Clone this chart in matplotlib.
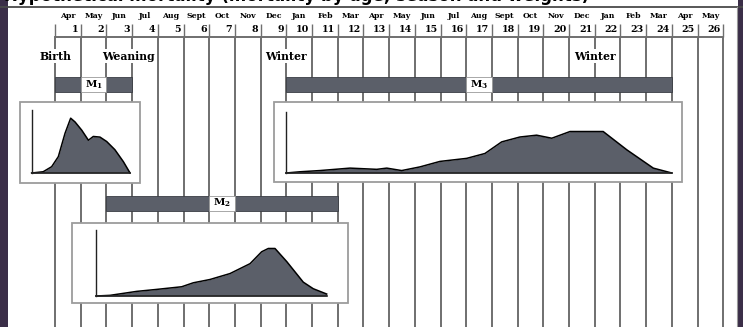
import matplotlib
matplotlib.use("Agg")
import matplotlib.pyplot as plt
from matplotlib.patches import Rectangle

plt.rcParams['mathtext.fontset'] = 'dejavuserif'

# ---- data ----
months = ['Apr', 'May', 'Jun', 'Jul', 'Aug', 'Sept', 'Oct', 'Nov', 'Dec', 'Jan', 'Feb', 'Mar', 'Apr',
          'May', 'Jun', 'Jul', 'Aug', 'Sept', 'Oct', 'Nov', 'Dec', 'Jan', 'Feb', 'Mar', 'Apr', 'May']
month_nums = list(range(1, 27))

events = ['Birth', 'Weaning', 'Winter', 'Winter']
event_month = [0, 3, 9, 21]

periods = ['M1', 'M2', 'M3']
period_start = [0, 2, 9]
period_end = [3, 11, 24]
period_label_cell = [1, 6, 16]

# density curves (x in months of age, y relative to inset height)
m1_x = [-0.91, -0.46, -0.13, 0.13, 0.39, 0.61, 0.78, 1.04, 1.30, 1.49, 1.75, 2.01, 2.33, 2.66, 2.92]
m1_y = [0.0, 0.02, 0.10, 0.26, 0.63, 0.87, 0.81, 0.68, 0.52, 0.58, 0.57, 0.50, 0.37, 0.18, 0.0]

m2_x = [1.60, 2.14, 2.66, 3.18, 3.96, 4.93, 5.38, 6.03, 6.81, 7.59, 8.04, 8.30, 8.56, 9.02, 9.66, 10.05, 10.57]
m2_y = [0.0, 0.01, 0.04, 0.07, 0.10, 0.14, 0.20, 0.25, 0.34, 0.49, 0.67, 0.72, 0.72, 0.52, 0.21, 0.11, 0.03]

m3_x = [8.99, 9.53, 10.31, 11.48, 12.52, 12.91, 13.49, 14.20, 14.98, 16.02, 16.73, 17.38, 18.09,
        18.74, 19.33, 20.04, 21.33, 22.25, 23.28, 24.0]
m3_y = [0.0, 0.02, 0.04, 0.08, 0.06, 0.08, 0.04, 0.10, 0.19, 0.24, 0.32, 0.51, 0.59, 0.62, 0.57,
        0.68, 0.68, 0.38, 0.08, 0.0]

# ---- layout (pixel rows, month columns) ----
W, H = 743, 327
PX0, PXM = 55.0, 25.7          # x pixel of month 0, pixels per month
line_col = '#6f6f6f'
fill_col = '#5b5f69'
serif = 'DejaVu Serif'

fig = plt.figure(figsize=(W / 100, H / 100), dpi=100)
fig.patch.set_facecolor('white')
ax = fig.add_axes([0, 0, 1, 1])
ax.set_xlim(-PX0 / PXM, (W - PX0) / PXM)
ax.set_ylim(H, 0)
ax.axis('off')

# month grid lines
for k in range(0, 27):
    ax.plot([k, k], [37, H], color=line_col, lw=1.4, zorder=1, solid_capstyle='butt')
    ax.plot([k, k], [24, 37], color=line_col, lw=1.0, zorder=1, solid_capstyle='butt')
ax.plot([0, 26], [37, 37], color=line_col, lw=1.4, zorder=1)

# header labels
for i, (m, n) in enumerate(zip(months, month_nums)):
    ax.text(n - 0.5, 15.5, m, ha='center', va='center', fontsize=5.6, fontweight='bold',
            family=serif)
    ax.text(n - 0.1, 30, str(n), ha='right', va='center', fontsize=6.8, fontweight='bold',
            family=serif)

# event labels
for ev, m in zip(events, event_month):
    ax.text(m - (0.15 if ev == 'Weaning' else 0), 56, ev, ha='center', va='center', fontsize=7.8,
            fontweight='bold', family=serif, zorder=4,
            bbox=dict(boxstyle='square,pad=0.15', fc='white', ec='none'))

# period bars
bar_rows = [84.5, 203, 84.5]
for name, s, e, c, yc in zip(periods, period_start, period_end, period_label_cell, bar_rows):
    ax.barh(yc, c - s, left=s, height=15, color=fill_col, edgecolor='#3a3d44', lw=0.6, zorder=3)
    ax.barh(yc, e - c - 1, left=c + 1, height=15, color=fill_col, edgecolor='#3a3d44', lw=0.6, zorder=3)
    ax.barh(yc, 1, left=c, height=15, color='white', edgecolor='#9a9a9a', lw=0.6, zorder=3)
    ax.text(c + 0.5, yc, r'$\mathbf{M}_{\mathbf{%s}}$' % name[1], ha='center', va='center',
            fontsize=7.5, zorder=4)

# insets
insets = [
    (m1_x, m1_y, (-1.36, 3.31, 102, 183), 173, 63),
    (m2_x, m2_y, (0.66, 11.40, 223, 303), 296, 66),
    (m3_x, m3_y, (8.52, 24.40, 102, 182), 173, 61),
]
for xs, ys, (bx0, bx1, by0, by1), base, hgt in insets:
    ax.add_patch(Rectangle((bx0, by0), bx1 - bx0, by1 - by0, fc='white', ec='#9c9c9c',
                           lw=1.3, zorder=2))
    top = [base - v * hgt for v in ys]
    ax.fill_between(xs, base, top, color=fill_col, lw=0, zorder=2.5)
    ax.plot(xs, top, color='black', lw=1.1, zorder=2.6)
    ax.plot([xs[0], xs[0]], [base, base - hgt], color='#222222', lw=1.0, zorder=2.6)
    ax.plot([xs[0], xs[-1]], [base, base], color='#222222', lw=1.2, zorder=2.6)

# cropped title strip (only its lower edge shows, as in the scanned source) and frame
fig.text(0.005, 1 - 1.2 / H, 'Hypothetical mortality (mortality by age, season and weights)',
         fontsize=12, fontweight='bold', ha='left', va='baseline', family='DejaVu Sans')
fig.add_artist(plt.Line2D([0, 1], [1 - 6.5 / H, 1 - 6.5 / H], color='#4a4a4a', lw=1.3))
fig.add_artist(Rectangle((0, 0), 8 / W, 1, transform=fig.transFigure, fc='#3b2e48', ec='none'))
fig.add_artist(Rectangle((738 / W, 0), 5 / W, 1, transform=fig.transFigure, fc='#3b2e48', ec='none'))
fig.add_artist(plt.Line2D([737 / W, 737 / W], [0, 1 - 6.5 / H], color='#9a9a9a', lw=0.8))

fig.savefig('out.png', dpi=100)
